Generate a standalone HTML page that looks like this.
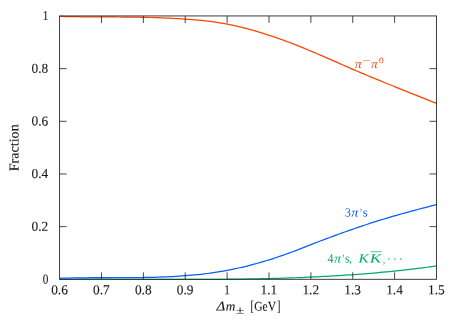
<!DOCTYPE html>
<html><head><meta charset="utf-8"><title>Fraction</title>
<style>
html,body{margin:0;padding:0;background:#fff;}
svg{display:block;will-change:transform;}
text{font-family:"Liberation Serif",serif;font-size:13.6px;fill:#1a1a1a;stroke:#1a1a1a;stroke-width:0.12px;}
</style></head>
<body>
<svg width="459" height="321" viewBox="0 0 459 321">
<rect width="459" height="321" fill="#fff"/>
<path d="M59.6,279.30 L62.7,279.30 L65.9,279.28 L69.0,279.27 L72.2,279.26 L75.3,279.25 L78.4,279.24 L81.6,279.23 L84.7,279.23 L87.9,279.22 L91.0,279.22 L94.1,279.22 L97.3,279.23 L100.4,279.23 L103.6,279.23 L106.7,279.24 L109.9,279.24 L113.0,279.25 L116.1,279.26 L119.3,279.27 L122.4,279.28 L125.6,279.29 L128.7,279.30 L131.8,279.30 L135.0,279.30 L138.1,279.30 L141.3,279.30 L144.4,279.30 L147.5,279.30 L150.7,279.30 L153.8,279.30 L157.0,279.30 L160.1,279.30 L163.2,279.30 L166.4,279.30 L169.5,279.30 L172.7,279.30 L175.8,279.30 L179.0,279.30 L182.1,279.30 L185.2,279.30 L188.4,279.30 L191.5,279.30 L194.7,279.30 L197.8,279.30 L200.9,279.30 L204.1,279.30 L207.2,279.30 L210.4,279.30 L213.5,279.30 L216.6,279.30 L219.8,279.30 L222.9,279.28 L226.1,279.25 L229.2,279.22 L232.3,279.18 L235.5,279.15 L238.6,279.11 L241.8,279.06 L244.9,279.02 L248.0,278.97 L251.2,278.92 L254.3,278.86 L257.5,278.80 L260.6,278.73 L263.8,278.67 L266.9,278.59 L270.0,278.52 L273.2,278.44 L276.3,278.35 L279.5,278.26 L282.6,278.17 L285.7,278.07 L288.9,277.97 L292.0,277.86 L295.2,277.75 L298.3,277.63 L301.4,277.51 L304.6,277.38 L307.7,277.24 L310.9,277.11 L314.0,276.96 L317.1,276.81 L320.3,276.65 L323.4,276.49 L326.6,276.33 L329.7,276.15 L332.9,275.97 L336.0,275.79 L339.1,275.60 L342.3,275.40 L345.4,275.19 L348.6,274.98 L351.7,274.76 L354.8,274.54 L358.0,274.30 L361.1,274.07 L364.3,273.82 L367.4,273.57 L370.5,273.31 L373.7,273.04 L376.8,272.76 L380.0,272.48 L383.1,272.19 L386.2,271.89 L389.4,271.58 L392.5,271.27 L395.7,270.95 L398.8,270.61 L402.0,270.28 L405.1,269.93 L408.2,269.57 L411.4,269.21 L414.5,268.83 L417.7,268.45 L420.8,268.06 L423.9,267.66 L427.1,267.25 L430.2,266.83 L433.4,266.40 L436.5,265.97" fill="none" stroke="#00a870" stroke-width="1.25"/>
<path d="M59.6,278.31 L62.7,278.20 L65.9,278.11 L69.0,278.03 L72.2,277.96 L75.3,277.90 L78.4,277.85 L81.6,277.81 L84.7,277.77 L87.9,277.75 L91.0,277.73 L94.1,277.71 L97.3,277.70 L100.4,277.69 L103.6,277.69 L106.7,277.68 L109.9,277.68 L113.0,277.68 L116.1,277.68 L119.3,277.68 L122.4,277.67 L125.6,277.66 L128.7,277.65 L131.8,277.63 L135.0,277.61 L138.1,277.57 L141.3,277.54 L144.4,277.49 L147.5,277.43 L150.7,277.37 L153.8,277.29 L157.0,277.20 L160.1,277.10 L163.2,276.99 L166.4,276.86 L169.5,276.72 L172.7,276.56 L175.8,276.38 L179.0,276.19 L182.1,275.97 L185.2,275.74 L188.4,275.49 L191.5,275.22 L194.7,274.92 L197.8,274.60 L200.9,274.26 L204.1,273.89 L207.2,273.50 L210.4,273.08 L213.5,272.64 L216.6,272.17 L219.8,271.66 L222.9,271.13 L226.1,270.57 L229.2,269.98 L232.3,269.35 L235.5,268.70 L238.6,268.01 L241.8,267.29 L244.9,266.55 L248.0,265.77 L251.2,264.97 L254.3,264.13 L257.5,263.27 L260.6,262.38 L263.8,261.46 L266.9,260.51 L270.0,259.53 L273.2,258.53 L276.3,257.50 L279.5,256.45 L282.6,255.37 L285.7,254.26 L288.9,253.13 L292.0,251.97 L295.2,250.79 L298.3,249.59 L301.4,248.37 L304.6,247.14 L307.7,245.91 L310.9,244.67 L314.0,243.44 L317.1,242.21 L320.3,241.00 L323.4,239.81 L326.6,238.63 L329.7,237.46 L332.9,236.31 L336.0,235.16 L339.1,234.03 L342.3,232.90 L345.4,231.78 L348.6,230.67 L351.7,229.57 L354.8,228.48 L358.0,227.39 L361.1,226.33 L364.3,225.27 L367.4,224.23 L370.5,223.20 L373.7,222.19 L376.8,221.20 L380.0,220.22 L383.1,219.25 L386.2,218.31 L389.4,217.37 L392.5,216.45 L395.7,215.54 L398.8,214.65 L402.0,213.76 L405.1,212.89 L408.2,212.03 L411.4,211.17 L414.5,210.33 L417.7,209.49 L420.8,208.66 L423.9,207.84 L427.1,207.02 L430.2,206.21 L433.4,205.40 L436.5,204.60" fill="none" stroke="#0a5cff" stroke-width="1.25"/>
<path d="M59.6,16.43 L62.7,16.49 L65.9,16.55 L69.0,16.60 L72.2,16.65 L75.3,16.69 L78.4,16.73 L81.6,16.76 L84.7,16.78 L87.9,16.81 L91.0,16.83 L94.1,16.85 L97.3,16.87 L100.4,16.89 L103.6,16.90 L106.7,16.92 L109.9,16.94 L113.0,16.96 L116.1,16.98 L119.3,17.00 L122.4,17.03 L125.6,17.06 L128.7,17.09 L131.8,17.13 L135.0,17.18 L138.1,17.23 L141.3,17.29 L144.4,17.35 L147.5,17.42 L150.7,17.50 L153.8,17.59 L157.0,17.69 L160.1,17.80 L163.2,17.92 L166.4,18.05 L169.5,18.19 L172.7,18.34 L175.8,18.51 L179.0,18.69 L182.1,18.89 L185.2,19.09 L188.4,19.32 L191.5,19.56 L194.7,19.82 L197.8,20.10 L200.9,20.41 L204.1,20.74 L207.2,21.09 L210.4,21.48 L213.5,21.90 L216.6,22.35 L219.8,22.84 L222.9,23.36 L226.1,23.92 L229.2,24.53 L232.3,25.17 L235.5,25.86 L238.6,26.58 L241.8,27.34 L244.9,28.14 L248.0,28.97 L251.2,29.83 L254.3,30.72 L257.5,31.64 L260.6,32.58 L263.8,33.55 L266.9,34.55 L270.0,35.57 L273.2,36.62 L276.3,37.69 L279.5,38.79 L282.6,39.91 L285.7,41.06 L288.9,42.23 L292.0,43.43 L295.2,44.66 L298.3,45.90 L301.4,47.16 L304.6,48.45 L307.7,49.75 L310.9,51.06 L314.0,52.39 L317.1,53.73 L320.3,55.08 L323.4,56.44 L326.6,57.81 L329.7,59.18 L332.9,60.56 L336.0,61.94 L339.1,63.32 L342.3,64.70 L345.4,66.07 L348.6,67.44 L351.7,68.81 L354.8,70.17 L358.0,71.52 L361.1,72.86 L364.3,74.19 L367.4,75.51 L370.5,76.82 L373.7,78.12 L376.8,79.41 L380.0,80.70 L383.1,81.98 L386.2,83.26 L389.4,84.53 L392.5,85.79 L395.7,87.05 L398.8,88.31 L402.0,89.56 L405.1,90.82 L408.2,92.07 L411.4,93.32 L414.5,94.57 L417.7,95.82 L420.8,97.07 L423.9,98.32 L427.1,99.58 L430.2,100.83 L433.4,102.10 L436.5,103.36" fill="none" stroke="#ff4500" stroke-width="1.25"/>
<path d="M101.48,279.3 v-7.0 M101.48,15.95 v7.0 M143.36,279.3 v-7.0 M143.36,15.95 v7.0 M185.23,279.3 v-7.0 M185.23,15.95 v7.0 M227.11,279.3 v-7.0 M227.11,15.95 v7.0 M268.99,279.3 v-7.0 M268.99,15.95 v7.0 M310.87,279.3 v-7.0 M310.87,15.95 v7.0 M352.74,279.3 v-7.0 M352.74,15.95 v7.0 M394.62,279.3 v-7.0 M394.62,15.95 v7.0 M59.6,226.63 h7.0 M436.5,226.63 h-7.0 M59.6,173.96 h7.0 M436.5,173.96 h-7.0 M59.6,121.29 h7.0 M436.5,121.29 h-7.0 M59.6,68.62 h7.0 M436.5,68.62 h-7.0" fill="none" stroke="#1c1c1c" stroke-width="0.8"/>
<rect x="59.6" y="15.95" width="376.90" height="263.35" fill="none" stroke="#262626" stroke-width="0.88"/>
<g>
<text x="51.15" y="294.30" transform="rotate(0.04 51.1 294.3)" textLength="16.70" lengthAdjust="spacingAndGlyphs">0.6</text>
<text x="93.03" y="294.30" transform="rotate(0.04 93.0 294.3)" textLength="16.70" lengthAdjust="spacingAndGlyphs">0.7</text>
<text x="134.91" y="294.30" transform="rotate(0.04 134.9 294.3)" textLength="16.70" lengthAdjust="spacingAndGlyphs">0.8</text>
<text x="176.78" y="294.30" transform="rotate(0.04 176.8 294.3)" textLength="16.70" lengthAdjust="spacingAndGlyphs">0.9</text>
<text x="224.21" y="294.30" transform="rotate(0.04 224.2 294.3)" textLength="5.60" lengthAdjust="spacingAndGlyphs">1</text>
<text x="260.54" y="294.30" transform="rotate(0.04 260.5 294.3)" textLength="16.70" lengthAdjust="spacingAndGlyphs">1.1</text>
<text x="302.42" y="294.30" transform="rotate(0.04 302.4 294.3)" textLength="16.70" lengthAdjust="spacingAndGlyphs">1.2</text>
<text x="344.29" y="294.30" transform="rotate(0.04 344.3 294.3)" textLength="16.70" lengthAdjust="spacingAndGlyphs">1.3</text>
<text x="386.17" y="294.30" transform="rotate(0.04 386.2 294.3)" textLength="16.70" lengthAdjust="spacingAndGlyphs">1.4</text>
<text x="428.05" y="294.30" transform="rotate(0.04 428.0 294.3)" textLength="16.70" lengthAdjust="spacingAndGlyphs">1.5</text>
<text x="42.70" y="283.40" transform="rotate(0.04 42.7 283.4)" textLength="5.60" lengthAdjust="spacingAndGlyphs">0</text>
<text x="31.60" y="230.73" transform="rotate(0.04 31.6 230.7)" textLength="16.70" lengthAdjust="spacingAndGlyphs">0.2</text>
<text x="31.60" y="178.06" transform="rotate(0.04 31.6 178.1)" textLength="16.70" lengthAdjust="spacingAndGlyphs">0.4</text>
<text x="31.60" y="125.39" transform="rotate(0.04 31.6 125.4)" textLength="16.70" lengthAdjust="spacingAndGlyphs">0.6</text>
<text x="31.60" y="72.72" transform="rotate(0.04 31.6 72.7)" textLength="16.70" lengthAdjust="spacingAndGlyphs">0.8</text>
<text x="42.70" y="20.05" transform="rotate(0.04 42.7 20.0)" textLength="5.60" lengthAdjust="spacingAndGlyphs">1</text>
<text x="216.40" y="310.40" transform="rotate(0.04 216.4 310.4)" style="font-size:13.1px;font-style:italic;" textLength="8.70" lengthAdjust="spacingAndGlyphs">Δ</text>
<text x="225.70" y="310.40" transform="rotate(0.04 225.7 310.4)" style="font-size:13.1px;font-style:italic;" textLength="9.60" lengthAdjust="spacingAndGlyphs">m</text>
<text x="236.10" y="313.70" transform="rotate(0.04 236.1 313.7)" style="font-size:10.5px;" textLength="8.20" lengthAdjust="spacingAndGlyphs">±</text>
<text x="250.60" y="311.20" transform="rotate(0.04 250.6 311.2)" style="font-size:15.2px;" textLength="3.40" lengthAdjust="spacingAndGlyphs">[</text>
<text x="254.20" y="310.40" transform="rotate(0.04 254.2 310.4)" style="font-size:13.1px;" textLength="21.80" lengthAdjust="spacingAndGlyphs">GeV</text>
<text x="276.90" y="311.20" transform="rotate(0.04 276.9 311.2)" style="font-size:15.2px;" textLength="3.40" lengthAdjust="spacingAndGlyphs">]</text>
<text x="354.80" y="68.00" transform="rotate(0.04 354.8 68.0)" style="font-size:12.6px;font-style:italic;fill:#ff4500;stroke:none;" textLength="7.10" lengthAdjust="spacingAndGlyphs">π</text>
<text x="362.50" y="63.40" transform="rotate(0.04 362.5 63.4)" style="font-size:9.5px;fill:#ff4500;stroke:none;" textLength="7.80" lengthAdjust="spacingAndGlyphs">−</text>
<text x="371.10" y="68.00" transform="rotate(0.04 371.1 68.0)" style="font-size:12.6px;font-style:italic;fill:#ff4500;stroke:none;" textLength="6.80" lengthAdjust="spacingAndGlyphs">π</text>
<text x="379.00" y="63.30" transform="rotate(0.04 379.0 63.3)" style="font-size:8.6px;fill:#ff4500;stroke:none;" textLength="4.70" lengthAdjust="spacingAndGlyphs">0</text>
<text x="345.00" y="216.60" transform="rotate(0.04 345.0 216.6)" style="font-size:12.6px;fill:#0a5cff;stroke:none;" textLength="5.80" lengthAdjust="spacingAndGlyphs">3</text>
<text x="351.30" y="216.60" transform="rotate(0.04 351.3 216.6)" style="font-size:12.6px;font-style:italic;fill:#0a5cff;stroke:none;" textLength="7.10" lengthAdjust="spacingAndGlyphs">π</text>
<text x="359.80" y="216.60" transform="rotate(0.04 359.8 216.6)" style="font-size:12.6px;fill:#0a5cff;stroke:none;" textLength="2.40" lengthAdjust="spacingAndGlyphs">’</text>
<text x="362.80" y="216.60" transform="rotate(0.04 362.8 216.6)" style="font-size:12.6px;fill:#0a5cff;stroke:none;" textLength="4.90" lengthAdjust="spacingAndGlyphs">s</text>
<text x="327.60" y="262.60" transform="rotate(0.04 327.6 262.6)" style="font-size:12.6px;fill:#00a870;stroke:none;" textLength="6.00" lengthAdjust="spacingAndGlyphs">4</text>
<text x="334.20" y="262.60" transform="rotate(0.04 334.2 262.6)" style="font-size:12.6px;font-style:italic;fill:#00a870;stroke:none;" textLength="6.80" lengthAdjust="spacingAndGlyphs">π</text>
<text x="342.20" y="262.60" transform="rotate(0.04 342.2 262.6)" style="font-size:12.6px;fill:#00a870;stroke:none;" textLength="2.40" lengthAdjust="spacingAndGlyphs">’</text>
<text x="344.90" y="262.60" transform="rotate(0.04 344.9 262.6)" style="font-size:12.6px;fill:#00a870;stroke:none;" textLength="7.10" lengthAdjust="spacingAndGlyphs">s,</text>
<text x="358.50" y="262.60" transform="rotate(0.04 358.5 262.6)" style="font-size:12.6px;font-style:italic;fill:#00a870;stroke:none;" textLength="10.30" lengthAdjust="spacingAndGlyphs">K</text>
<text x="369.80" y="262.60" transform="rotate(0.04 369.8 262.6)" style="font-size:12.6px;font-style:italic;fill:#00a870;stroke:none;" textLength="11.60" lengthAdjust="spacingAndGlyphs">K</text>
<text x="382.90" y="262.60" transform="rotate(0.04 382.9 262.6)" style="font-size:12.6px;fill:#00a870;stroke:none;" textLength="2.00" lengthAdjust="spacingAndGlyphs">,</text>
</g>
<text transform="translate(18.4,171.3) rotate(-90.04)" textLength="47.0" lengthAdjust="spacingAndGlyphs">Fraction</text>
<path d="M370.6,251.7 H381.6" stroke="#00a870" stroke-width="0.7" fill="none"/>
<circle cx="388.9" cy="259.0" r="0.75" fill="#00a870"/><circle cx="394.9" cy="259.0" r="0.75" fill="#00a870"/><circle cx="400.8" cy="259.0" r="0.75" fill="#00a870"/>
</svg>
</body></html>
